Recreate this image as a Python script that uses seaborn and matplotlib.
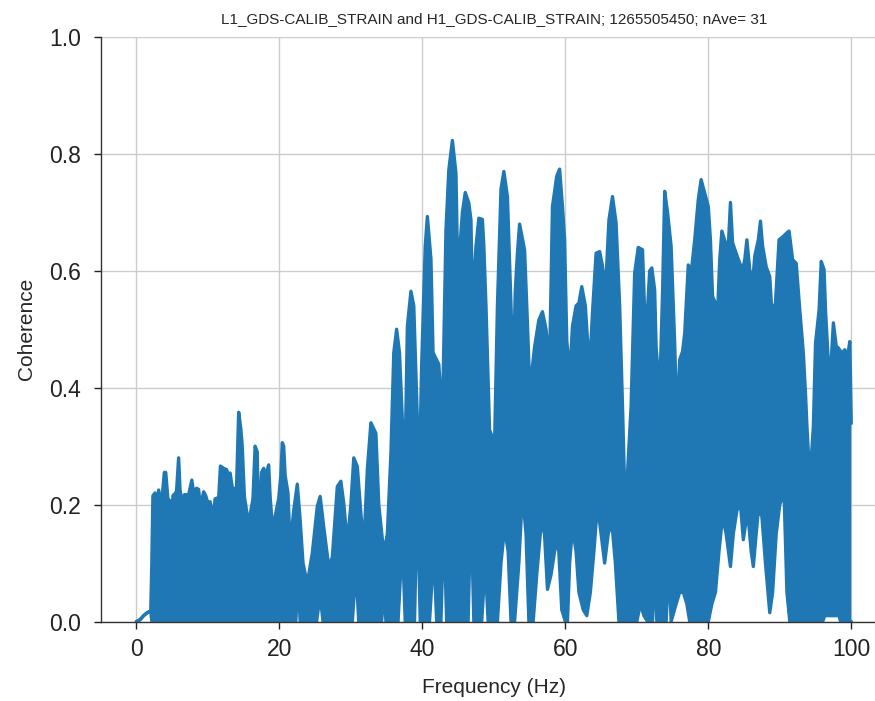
import numpy as np
import matplotlib
matplotlib.use("Agg")
import matplotlib.pyplot as plt
import seaborn as sns

# ------------------------------------------------------------
# Coherence L1 vs H1
# The trace oscillates so fast that it shows as a band:
# upper and lower edges of that band, as (frequency, coherence)
# ------------------------------------------------------------
upper_freq = [0.0, 0.5, 1.0, 1.5, 2.0, 2.15, 2.3, 2.6, 2.8, 3.1, 3.5, 3.9, 4.1, 4.4, 4.8, 4.95,
              5.1, 5.6, 5.9, 6.1, 6.5, 6.7, 7.3, 7.75, 8.0, 8.4, 8.7, 8.9, 9.1, 9.4, 9.7, 10.0,
              10.3, 10.8, 11.0, 11.5, 11.75, 12.2, 12.6, 12.9, 13.1, 13.4, 13.6, 14.0, 14.3, 14.6,
              14.8, 15.1, 15.5, 15.9, 16.3, 16.6, 16.9, 17.0, 17.2, 17.5, 17.8, 18.1, 18.5, 18.7,
              19.1, 19.4, 19.9, 20.2, 20.4, 20.6, 20.8, 21.2, 21.5, 22.0, 22.5, 22.9, 23.3, 23.9,
              24.6, 25.3, 25.7, 26.2, 26.9, 27.4, 28.1, 28.6, 29.0, 29.5, 30.0, 30.4, 30.9, 31.4,
              31.8, 32.3, 32.8, 33.5, 33.9, 34.6, 35.1, 35.6, 36.0, 36.4, 36.8, 37.2, 37.6, 37.9,
              38.4, 38.8, 39.3, 39.6, 39.9, 40.4, 40.7, 41.2, 41.5, 41.9, 42.3, 42.8, 43.3, 43.7,
              44.2, 44.7, 44.9, 45.1, 45.3, 45.6, 46.0, 46.5, 46.8, 47.0, 47.5, 47.9, 48.4, 48.6,
              48.9, 49.4, 50.1, 50.5, 51.0, 51.4, 51.9, 52.4, 52.7, 53.0, 53.3, 53.6, 54.3, 54.7,
              55.1, 55.3, 55.7, 56.3, 56.8, 57.3, 57.8, 58.2, 58.8, 59.2, 59.6, 59.9, 60.2, 60.6,
              61.0, 61.5, 61.9, 62.3, 62.8, 63.1, 63.4, 63.8, 64.3, 64.8, 65.2, 65.6, 66.1, 66.6,
              67.1, 67.6, 68.0, 68.4, 68.7, 69.2, 69.7, 70.2, 70.8, 71.1, 71.3, 71.8, 72.1, 72.5,
              72.7, 73.2, 73.6, 73.9, 74.3, 74.8, 75.3, 75.6, 76.0, 76.4, 76.7, 77.2, 77.6, 78.1,
              78.6, 79.0, 79.5, 80.0, 80.3, 80.6, 81.0, 81.2, 81.4, 81.6, 81.9, 82.4, 82.8, 83.1,
              83.4, 83.9, 84.4, 84.8, 85.1, 85.4, 85.8, 86.2, 86.5, 87.0, 87.3, 87.6, 88.1, 88.6,
              88.9, 89.4, 89.9, 90.5, 91.0, 91.3, 91.8, 92.3, 92.8, 93.3, 93.6, 93.8, 94.1, 94.4,
              94.7, 95.0, 95.5, 95.8, 96.2, 96.4, 96.8, 97.1, 97.5, 97.9, 98.2, 98.7, 99.1, 99.4,
              99.8, 100.0]
upper_coh = [0.0, 0.003, 0.01, 0.015, 0.018, 0.10, 0.215, 0.22, 0.17, 0.225, 0.20, 0.255, 0.255, 0.21, 0.205, 0.17,
             0.215, 0.222, 0.28, 0.225, 0.195, 0.217, 0.217, 0.242, 0.22, 0.228, 0.226, 0.20, 0.205, 0.222, 0.215, 0.202,
             0.205, 0.18, 0.21, 0.212, 0.266, 0.262, 0.26, 0.25, 0.254, 0.23, 0.225, 0.23, 0.358, 0.33,
             0.30, 0.214, 0.182, 0.182, 0.21, 0.30, 0.29, 0.214, 0.18, 0.255, 0.262, 0.25, 0.268, 0.214,
             0.15, 0.18, 0.21, 0.25, 0.306, 0.30, 0.25, 0.22, 0.128, 0.19, 0.235, 0.174, 0.10, 0.065,
             0.117, 0.197, 0.214, 0.162, 0.094, 0.11, 0.231, 0.24, 0.202, 0.134, 0.20, 0.28, 0.265, 0.185,
             0.128, 0.26, 0.34, 0.322, 0.20, 0.117, 0.15, 0.288, 0.46, 0.50, 0.46, 0.345, 0.288, 0.505,
             0.565, 0.54, 0.345, 0.26, 0.44, 0.642, 0.693, 0.62, 0.46, 0.45, 0.44, 0.345, 0.67, 0.773,
             0.823, 0.767, 0.63, 0.516, 0.65, 0.70, 0.734, 0.716, 0.687, 0.545, 0.642, 0.69, 0.688, 0.642,
             0.54, 0.328, 0.305, 0.54, 0.74, 0.77, 0.727, 0.54, 0.412, 0.567, 0.63, 0.68, 0.636, 0.51,
             0.373, 0.425, 0.47, 0.516, 0.53, 0.50, 0.442, 0.71, 0.762, 0.774, 0.71, 0.653, 0.482, 0.419,
             0.505, 0.54, 0.545, 0.573, 0.54, 0.482, 0.436, 0.528, 0.63, 0.633, 0.608, 0.562, 0.687, 0.727,
             0.682, 0.54, 0.368, 0.18, 0.254, 0.368, 0.596, 0.64, 0.636, 0.528, 0.49, 0.60, 0.605, 0.567,
             0.47, 0.39, 0.562, 0.736, 0.70, 0.642, 0.476, 0.34, 0.448, 0.462, 0.493, 0.61, 0.596, 0.653,
             0.722, 0.756, 0.733, 0.71, 0.653, 0.556, 0.545, 0.479, 0.56, 0.619, 0.668, 0.648, 0.642, 0.717,
             0.648, 0.63, 0.613, 0.602, 0.619, 0.653, 0.602, 0.579, 0.625, 0.653, 0.685, 0.642, 0.607, 0.59,
             0.528, 0.545, 0.653, 0.659, 0.665, 0.668, 0.619, 0.613, 0.533, 0.459, 0.39, 0.334, 0.268, 0.277,
             0.334, 0.476, 0.533, 0.616, 0.602, 0.533, 0.442, 0.425, 0.511, 0.471, 0.468, 0.459, 0.465, 0.448,
             0.479, 0.339]

lower_freq = [0.0, 0.5, 1.0, 1.5, 2.0, 2.15, 22.3, 22.6, 22.9, 25.2, 25.7, 26.1, 30.2, 30.7, 31.1,
              34.3, 34.6, 34.9, 36.6, 37.2, 37.6, 38.9, 39.3, 39.7, 41.0, 41.6, 42.0, 42.6, 43.0,
              43.4, 46.4, 46.8, 47.2, 48.3, 48.8, 49.2, 50.5, 51.0, 51.5, 52.0, 52.4, 52.9, 53.5,
              54.0, 54.5, 54.9, 55.5, 56.0, 56.5, 57.0, 57.5, 58.0, 58.5, 59.0, 59.5, 60.0, 60.3,
              60.6, 61.0, 61.5, 61.9, 62.5, 63.0, 63.5, 64.0, 64.5, 65.0, 65.5, 66.0, 66.5, 67.0,
              67.5, 70.0, 70.5, 71.0, 71.5, 72.2, 72.5, 72.8, 74.1, 74.5, 74.8, 75.5, 76.0, 76.5,
              77.0, 77.4, 80.0, 80.5, 81.0, 81.5, 82.0, 82.5, 83.1, 83.5, 84.0, 84.5, 84.9, 85.5,
              86.0, 86.3, 86.7, 87.0, 87.5, 88.0, 88.6, 89.0, 89.5, 90.0, 90.6, 91.0, 91.4, 96.0,
              96.3, 98.3, 98.5, 100.0]
lower_coh = [0.0, 0.003, 0.01, 0.015, 0.018, 0.0, 0.0, 0.08, 0.0, 0.0, 0.045, 0.0, 0.0, 0.09, 0.0,
             0.0, 0.06, 0.0, 0.0, 0.14, 0.0, 0.0, 0.22, 0.0, 0.0, 0.12, 0.0, 0.0, 0.17,
             0.0, 0.0, 0.20, 0.0, 0.0, 0.10, 0.0, 0.0, 0.10, 0.16, 0.12, 0.0, 0.0, 0.10,
             0.22, 0.15, 0.0, 0.0, 0.08, 0.15, 0.17, 0.055, 0.08, 0.12, 0.14, 0.02, 0.0, 0.0,
             0.10, 0.16, 0.12, 0.05, 0.02, 0.01, 0.05, 0.12, 0.20, 0.15, 0.10, 0.15, 0.17, 0.10,
             0.0, 0.0, 0.03, 0.01, 0.0, 0.0, 0.10, 0.0, 0.0, 0.10, 0.0, 0.03, 0.05, 0.05,
             0.03, 0.0, 0.0, 0.03, 0.05, 0.12, 0.18, 0.15, 0.094, 0.15, 0.19, 0.20, 0.14, 0.19,
             0.12, 0.094, 0.15, 0.19, 0.18, 0.10, 0.015, 0.05, 0.15, 0.20, 0.22, 0.05, 0.0, 0.0,
             0.01, 0.01, 0.0, 0.0]

title = "L1_GDS-CALIB_STRAIN and H1_GDS-CALIB_STRAIN; 1265505450; nAve= 31"
x_ticks = [0, 20, 40, 60, 80, 100]
y_ticks = [0.0, 0.2, 0.4, 0.6, 0.8, 1.0]

# ------------------------------------------------------------
# Style
# ------------------------------------------------------------
sns.set_style("whitegrid", {
    "grid.color": "#cccccc",
    "axes.edgecolor": "#333333",
    "xtick.bottom": True,
    "ytick.left": True,
    "xtick.color": "#222222",
    "ytick.color": "#222222",
})
plt.rcParams["font.family"] = ["Liberation Sans", "DejaVu Sans"]

blue = "#1f77b4"

fig = plt.figure(figsize=(8.75, 7.01), dpi=100)
ax = fig.add_axes([0.1151, 0.1134, 0.8986, 0.8338])

# band between the lower and upper edge
ax.fill(np.r_[upper_freq, lower_freq[::-1]], np.r_[upper_coh, lower_coh[::-1]],
        color=blue, lw=0)
sns.lineplot(x=upper_freq, y=upper_coh, ax=ax, color=blue, linewidth=2.4,
             estimator=None, sort=False)
sns.lineplot(x=lower_freq, y=lower_coh, ax=ax, color=blue, linewidth=2.4,
             estimator=None, sort=False)

ax.set_xlim(-5, 105)
ax.set_ylim(0, 1)
ax.set_xticks(x_ticks)
ax.set_yticks(y_ticks)
ax.set_yticklabels([f"{v:.1f}" for v in y_ticks])
ax.tick_params(axis="both", labelsize=16.5, length=5, width=1, direction="out")
ax.tick_params(axis="x", pad=7)
ax.tick_params(axis="y", pad=9)
ax.grid(True, color="#cccccc", linewidth=1)

for side in ["top", "right"]:
    ax.spines[side].set_visible(False)
for side in ["left", "bottom"]:
    ax.spines[side].set_color("#333333")
    ax.spines[side].set_linewidth(1)

ax.set_title(title, fontsize=11, pad=10)
ax.set_xlabel("Frequency (Hz)", fontsize=15, labelpad=12)
ax.set_ylabel("Coherence", fontsize=15, labelpad=10)

plt.savefig("out.png", dpi=100)
